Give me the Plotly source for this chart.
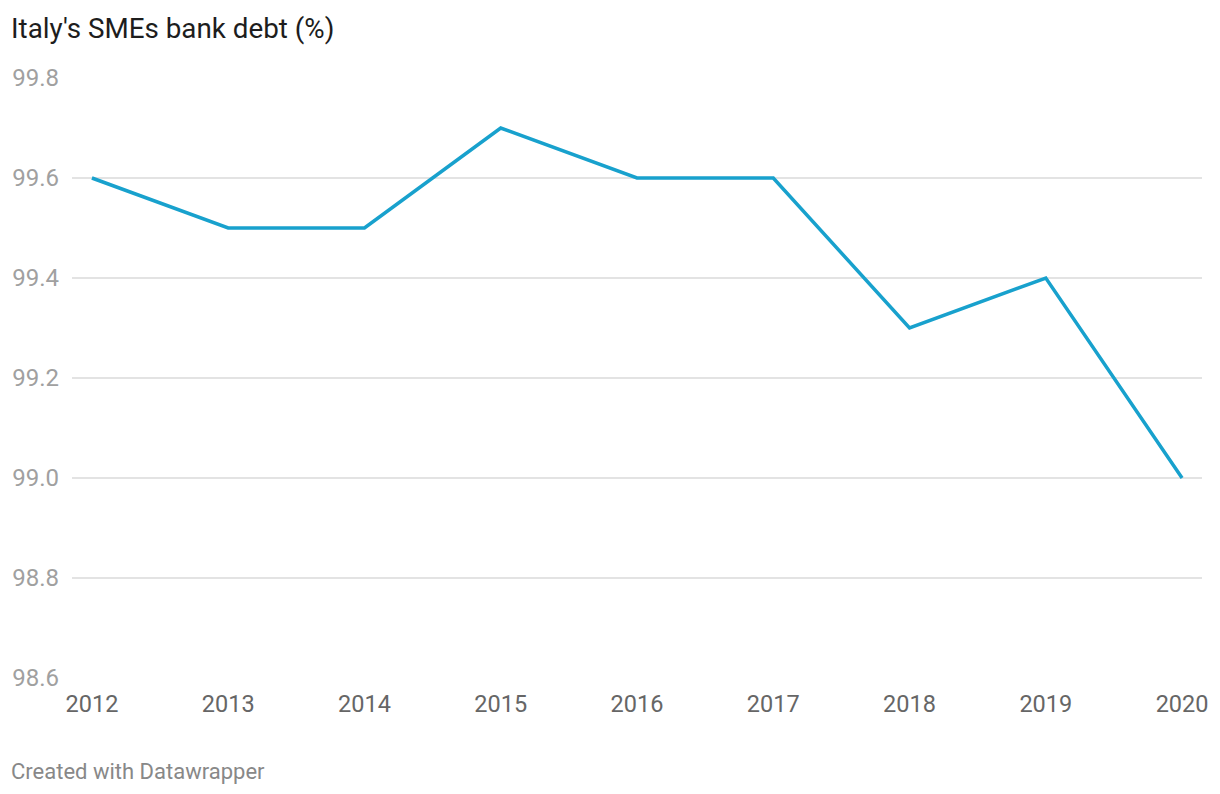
import plotly.graph_objects as go

years = [2012, 2013, 2014, 2015, 2016, 2017, 2018, 2019, 2020]
debt = [99.6, 99.5, 99.5, 99.7, 99.6, 99.6, 99.3, 99.4, 99.0]
y_ticks = [98.6, 98.8, 99.0, 99.2, 99.4, 99.6, 99.8]

fig = go.Figure()
fig.add_trace(go.Scatter(
    x=years, y=debt, mode="lines",
    line=dict(color="#18a1cd", width=3.5),
    hoverinfo="x+y",
))

fig.update_layout(
    width=1220, height=794,
    margin=dict(l=69, r=17, t=78, b=116),
    paper_bgcolor="white", plot_bgcolor="white",
    showlegend=False,
    font=dict(family="Roboto, sans-serif"),
    xaxis=dict(
        range=[2012 - 20/136.75, 2020 + 20/136.75],
        tickmode="array", tickvals=years, ticktext=[str(y) for y in years],
        showgrid=False, zeroline=False, showline=False, ticks="",
        tickfont=dict(size=23.5, color="#666666"),
        ticklabelstandoff=9,
    ),
    yaxis=dict(
        range=[98.6, 99.8],
        tickmode="array", tickvals=y_ticks, ticktext=[f"{v:.1f}" for v in y_ticks],
        showgrid=True, gridcolor="#e3e3e3", gridwidth=1.5,
        zeroline=False, showline=False, ticks="",
        tickfont=dict(size=24, color="#a0a0a0"),
        ticklabelstandoff=12,
    ),
)

pw = 1220 - 69 - 17
ph = 794 - 78 - 116
def px(x): return (x - 69) / pw
def py(y): return (794 - 116 - y) / ph

fig.add_annotation(text="Italy's SMEs bank debt (%)", x=px(6), y=py(28),
                   xref="paper", yref="paper", xanchor="left", yanchor="middle",
                   showarrow=False, font=dict(size=27.8, color="#1d1d1d"))
fig.add_annotation(text="Created with Datawrapper", x=px(6), y=py(771),
                   xref="paper", yref="paper", xanchor="left", yanchor="middle",
                   showarrow=False, font=dict(size=22, color="#888888"))

fig.write_html("out.html")
